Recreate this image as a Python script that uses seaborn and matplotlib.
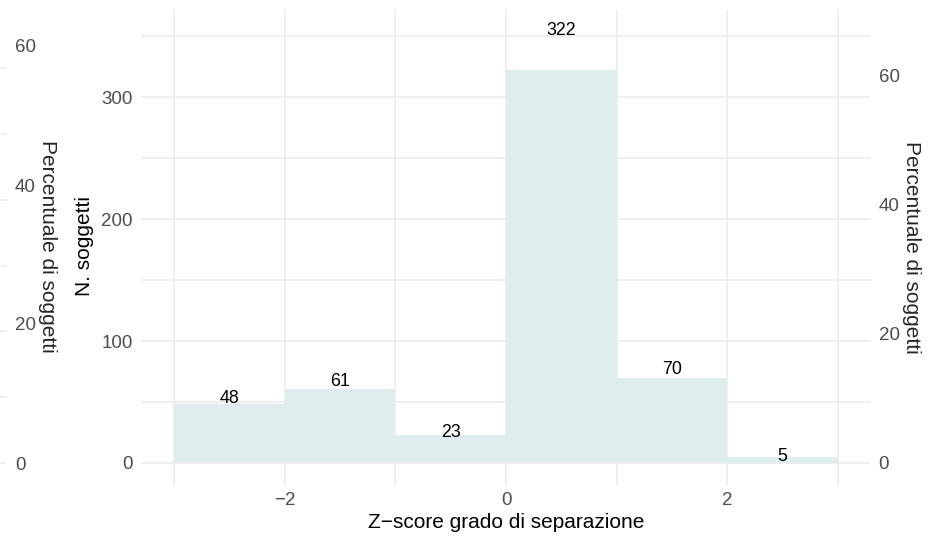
import numpy as np
import matplotlib
matplotlib.use("Agg")
import matplotlib.pyplot as plt
import seaborn as sns

# Histogram data
bin_edges = [-3, -2, -1, 0, 1, 2, 3]
bin_centers = [-2.5, -1.5, -0.5, 0.5, 1.5, 2.5]
counts = [48, 61, 23, 322, 70, 5]
total = sum(counts)

pct_ticks = [0, 20, 40, 60]
count_ticks = [0, 100, 200, 300]
x_ticks = [-2, 0, 2]

sns.set_theme(style="whitegrid")
plt.rcParams["font.family"] = ["Liberation Sans", "DejaVu Sans"]

W, H = 935, 536
fig = plt.figure(figsize=(W / 100, H / 100), dpi=100)

grid_col = "#ebebeb"
tick_col = "#4d4d4d"
bar_col = "#e0eded"
tick_fs = 13.5
title_fs = 15
label_fs = 12.8

# panel in pixel coordinates
px_l, px_r, px_t, px_b = 141, 871, 9.3, 484.6
ax = fig.add_axes([px_l / W, 1 - px_b / H, (px_r - px_l) / W, (px_b - px_t) / H])

sns.histplot(x=bin_centers, weights=counts, bins=bin_edges, color=bar_col,
             alpha=1, linewidth=0, ax=ax)

ymax = max(counts) * 1.1
pad_y = ymax * 0.05
ax.set_xlim(-3.3, 3.3)
ax.set_ylim(-pad_y, ymax + pad_y)

# count labels above the bars
for c, v in zip(bin_centers, counts):
    ax.text(c, v * 1.1, str(v), ha="center", va="center", fontsize=label_fs, color="black")

ax.set_xticks(x_ticks)
ax.set_xticklabels(["\u22122", "0", "2"])
ax.set_xticks([-3, -1, 1, 3], minor=True)
ax.set_yticks(count_ticks)
ax.set_yticks([50, 150, 250, 350], minor=True)
ax.grid(True, which="both", color=grid_col, linewidth=1.1)
for s in ax.spines.values():
    s.set_visible(False)
ax.tick_params(axis="both", which="both", length=0, labelsize=tick_fs, labelcolor=tick_col)
ax.tick_params(axis="y", pad=5.8)
ax.tick_params(axis="x", pad=5)
ax.set_xlabel("Z\u2212score grado di separazione", fontsize=title_fs, color="black")
ax.xaxis.set_label_coords(0.5, -(522 - px_b) / (px_b - px_t))
ax.xaxis.label.set_va("center")
ax.set_ylabel("N. soggetti", fontsize=title_fs, color="black")
ax.yaxis.set_label_coords(-(px_l - 85) / (px_r - px_l), 1 - (246 - px_t) / (px_b - px_t))
ax.yaxis.label.set_va("center")

# right percent axis (same scale as counts)
ax2 = ax.twinx()
lo, hi = ax.get_ylim()
ax2.set_ylim(lo / total * 100, hi / total * 100)
ax2.set_yticks(pct_ticks)
ax2.grid(False)
for s in ax2.spines.values():
    s.set_visible(False)
ax2.tick_params(axis="y", length=0, labelsize=tick_fs, labelcolor=tick_col, pad=5.5)
fig.text(911 / W, 1 - 247 / H, "Percentuale di soggetti", rotation=-90,
         ha="center", va="center", fontsize=title_fs)

# left stub panel (grid only)
stub = fig.add_axes([0, 1 - px_b / H, 7 / W, (px_b - px_t) / H])
stub.set_ylim(-(px_b - 463) / 6.58, (463 - px_t) / 6.58)
stub.set_yticks(np.arange(0, 70, 10))
stub.set_xticks([])
stub.tick_params(axis="y", length=0, labelleft=False)
stub.grid(True, axis="y", color=grid_col, linewidth=1.1)
stub.set_facecolor("none")
for s in stub.spines.values():
    s.set_visible(False)

# left percent labels
lab = fig.add_axes([0, 1 - px_b / H, 12 / W, (px_b - px_t) / H])
lab.set_facecolor("none")
lab.set_ylim(-(px_b - 463) / 6.95, (463 - px_t) / 6.95)
lab.set_xticks([])
lab.yaxis.tick_right()
lab.set_yticks(pct_ticks)
lab.grid(False)
lab.tick_params(axis="y", length=0, labelsize=tick_fs, labelcolor=tick_col, pad=2.2,
                labelleft=False, labelright=True)
for s in lab.spines.values():
    s.set_visible(False)
fig.text(47 / W, 1 - 246 / H, "Percentuale di soggetti", rotation=-90,
         ha="center", va="center", fontsize=title_fs)

fig.savefig("out.png", dpi=100)
